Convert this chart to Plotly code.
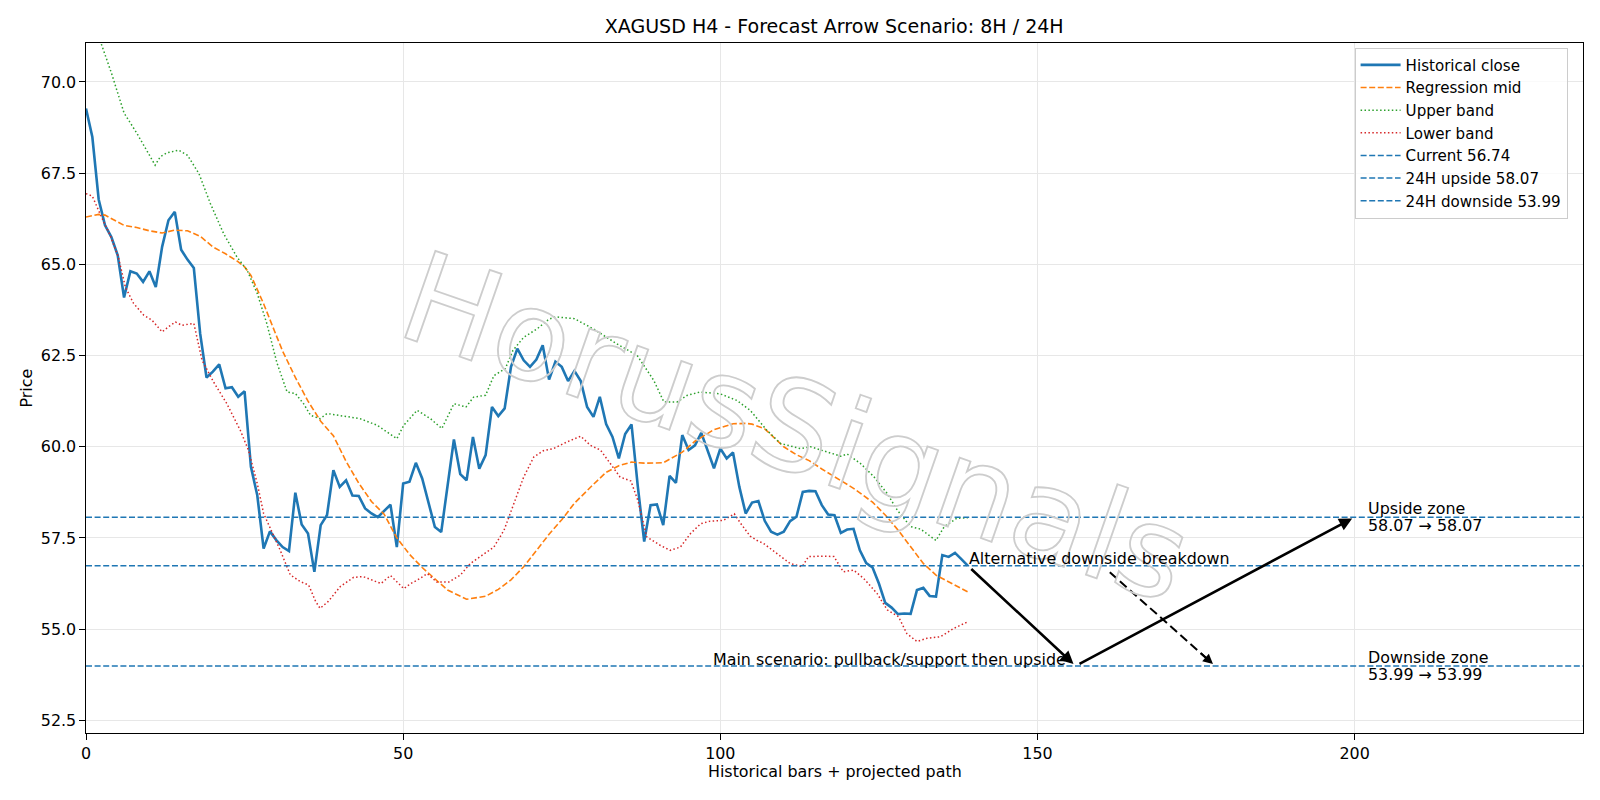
import plotly.graph_objects as go

FONT = "DejaVu Sans"

# ---------------- data ----------------
bar_index = list(range(140))
close = [69.27, 68.49, 66.78, 66.07, 65.75, 65.25, 64.09, 64.81, 64.75, 64.52,
         64.81, 64.38, 65.48, 66.21, 66.44, 65.40, 65.13, 64.90, 63.10, 61.90,
         62.06, 62.26, 61.60, 61.63, 61.37, 61.52, 59.45, 58.67, 57.21, 57.68,
         57.44, 57.25, 57.14, 58.74, 57.87, 57.62, 56.57, 57.85, 58.13, 59.36,
         58.90, 59.08, 58.66, 58.65, 58.31, 58.17, 58.07, 58.25, 58.41, 57.25,
         58.99, 59.04, 59.56, 59.13, 58.44, 57.80, 57.66, 58.93, 60.20, 59.25,
         59.08, 60.27, 59.40, 59.77, 61.09, 60.84, 61.05, 62.19, 62.69, 62.37,
         62.19, 62.39, 62.78, 61.84, 62.33, 62.19, 61.80, 62.08, 61.80, 61.09,
         60.82, 61.37, 60.62, 60.27, 59.68, 60.35, 60.61, 58.90, 57.40, 58.40,
         58.42, 57.85, 59.20, 59.01, 60.32, 59.91, 60.04, 60.38, 59.91, 59.41,
         59.95, 59.68, 59.84, 58.90, 58.17, 58.47, 58.51, 57.97, 57.67, 57.59,
         57.67, 57.96, 58.08, 58.76, 58.79, 58.78, 58.40, 58.14, 58.12, 57.64,
         57.73, 57.75, 57.16, 56.81, 56.69, 56.25, 55.72, 55.59, 55.41, 55.43,
         55.42, 56.07, 56.13, 55.91, 55.89, 57.03, 56.98, 57.09, 56.92, 56.74]

mid_x = [0, 2, 3, 5, 6, 8, 10, 12, 13, 14, 16, 18, 20, 22, 24, 25, 26, 28, 30, 31,
         33, 35, 37, 39, 41, 43, 45, 47, 49, 51, 53, 55, 57, 60, 63, 65, 67, 69, 71, 73,
         75, 77, 80, 82, 84, 86, 88, 91, 94, 96, 99, 102, 104, 105, 107, 109, 110, 112,
         114, 116, 119, 121, 124, 126, 128, 130, 132, 134, 137, 139]
mid_y = [66.30, 66.37, 66.35, 66.16, 66.07, 66.01, 65.92, 65.86, 65.89, 65.94,
         65.92, 65.77, 65.48, 65.29, 65.07, 64.93, 64.70, 63.92, 63.05, 62.62,
         61.90, 61.25, 60.70, 60.30, 59.60, 59.00, 58.50, 58.15, 57.50, 57.05,
         56.69, 56.38, 56.07, 55.82, 55.90, 56.09, 56.35, 56.71, 57.15, 57.60,
         58.00, 58.45, 58.97, 59.30, 59.48, 59.58, 59.55, 59.56, 59.85, 60.15,
         60.47, 60.63, 60.64, 60.62, 60.49, 60.18, 60.00, 59.78, 59.62, 59.39,
         59.08, 58.86, 58.48, 58.13, 57.72, 57.25, 56.80, 56.48, 56.20, 56.02]

upper_x = [0, 1, 2, 3, 4, 6, 8, 10.9, 11.7, 12.8, 14.6, 16, 17.8, 19.6, 21.7, 23.8,
           25.4, 27, 28.5, 30.1, 31.7, 33, 34.3, 35.4, 36.9, 38, 39, 43.2, 45.9, 49,
           50.1, 52.2, 54.3, 56.1, 58, 59.9, 61.1, 63, 64.3, 66.1, 67.3, 69, 71.1, 73,
           74, 77, 80, 83.7, 86.9, 89.5, 91.1, 93.2, 94.8, 96.8, 100, 102.6, 104.7,
           106.3, 107.3, 109.5, 112.6, 114.2, 116.8, 119, 120, 122.1, 124.2, 126.3,
           127.9, 130, 131.6, 134, 135.3, 137.3, 139]
upper_y = [72.25, 71.75, 71.25, 70.75, 70.25, 69.15, 68.60, 67.72, 67.95, 68.06,
           68.13, 67.99, 67.49, 66.67, 65.84, 65.20, 64.84, 64.20, 63.38, 62.30,
           61.50, 61.46, 61.18, 60.86, 60.77, 60.91, 60.88, 60.77, 60.59, 60.22,
           60.59, 61.00, 60.77, 60.50, 61.18, 61.09, 61.36, 61.41, 61.95, 62.14,
           62.64, 63.00, 63.23, 63.50, 63.56, 63.51, 63.23, 62.82, 62.50, 61.82,
           61.23, 61.23, 61.41, 61.50, 61.45, 61.27, 61.00, 60.68, 60.46, 60.09,
           59.95, 60.00, 59.86, 59.74, 59.80, 59.54, 59.18, 58.72, 58.26, 57.81,
           57.74, 57.43, 57.81, 58.04, 58.05]

lower_x = [0, 1, 2.3, 3.8, 5.1, 6.2, 7.5, 9.1, 10.4, 12, 13, 14.1, 15.1, 17, 18.3,
           20.1, 22.2, 24.3, 25.6, 27, 28, 29.3, 30.6, 32.2, 33.8, 35.1, 36.2, 36.9,
           38.2, 40.1, 42.2, 43.7, 45.3, 46.5, 48, 50.1, 51.2, 52.2, 53.8, 55.3, 57.2,
           59, 60.6, 62.7, 64.3, 65.9, 67.4, 69, 70.6, 72.1, 73.7, 75.8, 78, 79.5,
           81.1, 82.6, 84.2, 85.9, 87, 88.4, 90.5, 92.1, 93.7, 95.3, 96.9, 98.4, 100.5,
           102.2, 103.2, 104.7, 105.8, 106.8, 108.9, 111, 112.9, 113.9, 116.3, 117.9,
           119.4, 121, 122.6, 124.7, 126.3, 128.1, 129.4, 131, 132.6, 134.7, 136.8, 139]
lower_y = [66.94, 66.87, 66.35, 65.80, 65.20, 64.38, 63.93, 63.61, 63.47, 63.15,
           63.29, 63.42, 63.33, 63.38, 62.37, 61.78, 61.18, 60.46, 59.91, 58.99,
           58.17, 57.67, 57.17, 56.49, 56.30, 56.21, 55.76, 55.57, 55.76, 56.17,
           56.42, 56.44, 56.34, 56.25, 56.47, 56.11, 56.25, 56.34, 56.52, 56.29,
           56.29, 56.48, 56.80, 57.07, 57.25, 57.71, 58.44, 59.17, 59.72, 59.89,
           59.95, 60.13, 60.29, 60.04, 59.91, 59.54, 59.17, 59.06, 58.53, 57.53,
           57.30, 57.16, 57.25, 57.62, 57.89, 57.96, 57.98, 58.16, 57.90, 57.55,
           57.43, 57.35, 57.08, 56.80, 56.71, 56.99, 57.00, 56.99, 56.57, 56.62,
           56.39, 55.98, 55.53, 55.34, 54.88, 54.66, 54.75, 54.79, 55.02, 55.20]

current_price = 56.74
upside_target = 58.07
downside_target = 53.99

last_bar = 139
pullback_bar = 156
upside_bar = 200
alt_start = (161.4, 56.56)
alt_end_bar = 178
zone_label_bar = 202
main_text_bar = 154.7

x_range = [0, 236]
y_range = [52.152, 71.069]
x_ticks = [0, 50, 100, 150, 200]
y_ticks = [52.5, 55.0, 57.5, 60.0, 62.5, 65.0, 67.5, 70.0]

title_text = "XAGUSD H4 - Forecast Arrow Scenario: 8H / 24H"
watermark = "HorusSignals"

# ---------------- layout geometry (pixels) ----------------
W, H = 1600, 800
L, R, T, B = 85.7, 17.3, 42.7, 67.0
plot_w = W - L - R
plot_h = H - T - B

FS = 15.9        # body text size
FS_TITLE = 19.05
FS_LEGEND = 15.1

BLUE = "#1f77b4"
ORANGE = "#ff7f0e"
GREEN = "#2ca02c"
RED = "#d62728"

fig = go.Figure()

traces = [
    dict(x=bar_index, y=close, name="Historical close",
         line=dict(color=BLUE, width=2.6)),
    dict(x=mid_x, y=mid_y, name="Regression mid",
         line=dict(color=ORANGE, width=1.6, dash="6px,2.6px")),
    dict(x=upper_x, y=upper_y, name="Upper band",
         line=dict(color=GREEN, width=1.5, dash="1.5px,2.4px")),
    dict(x=lower_x, y=lower_y, name="Lower band",
         line=dict(color=RED, width=1.5, dash="1.5px,2.4px")),
    dict(x=x_range, y=[current_price] * 2, name=f"Current {current_price:.2f}",
         line=dict(color=BLUE, width=1.5, dash="6px,2.6px")),
    dict(x=x_range, y=[upside_target] * 2, name=f"24H upside {upside_target:.2f}",
         line=dict(color=BLUE, width=1.5, dash="6px,2.6px")),
    dict(x=x_range, y=[downside_target] * 2, name=f"24H downside {downside_target:.2f}",
         line=dict(color=BLUE, width=1.5, dash="6px,2.6px")),
]
for k, t in enumerate(traces):
    fig.add_trace(go.Scatter(mode="lines", legendgroup=f"g{k}", hoverinfo="skip", **t))

# dashed alternative scenario line (arrowhead added as annotation)
alt_dx = alt_end_bar - alt_start[0]
alt_dy = downside_target - alt_start[1]
fig.add_trace(go.Scatter(
    x=[alt_start[0], alt_start[0] + 0.93 * alt_dx],
    y=[alt_start[1], alt_start[1] + 0.93 * alt_dy],
    mode="lines", showlegend=False, hoverinfo="skip",
    line=dict(color="black", width=2.0, dash="9px,4.5px")))

txt_font = dict(family=FONT, size=FS, color="black")
annotations = []

# watermark
annotations.append(dict(
    x=111.86, y=60.52, xref="x", yref="y", showarrow=False,
    text=f'<span style="fill:none;stroke:#cdcdcd;stroke-width:1.8px">{watermark}</span>',
    textangle=19.2, xanchor="center", yanchor="middle",
    font=dict(family=FONT, size=126, color="#cdcdcd")))

# main scenario arrows
annotations.append(dict(
    x=pullback_bar, y=downside_target, ax=last_bar, ay=current_price,
    xref="x", yref="y", axref="x", ayref="y", text="", showarrow=True,
    arrowhead=2, arrowsize=1, arrowwidth=2.6, arrowcolor="black",
    standoff=2.8, startstandoff=2.8))
annotations.append(dict(
    x=upside_bar, y=upside_target, ax=pullback_bar, ay=downside_target,
    xref="x", yref="y", axref="x", ayref="y", text="", showarrow=True,
    arrowhead=2, arrowsize=1, arrowwidth=2.6, arrowcolor="black",
    standoff=2.8, startstandoff=2.8))
# alternative arrowhead
annotations.append(dict(
    x=alt_end_bar, y=downside_target,
    ax=alt_start[0] + 0.85 * alt_dx, ay=alt_start[1] + 0.85 * alt_dy,
    xref="x", yref="y", axref="x", ayref="y", text="", showarrow=True,
    arrowhead=2, arrowsize=1, arrowwidth=2.0, arrowcolor="black",
    standoff=2.8))

# scenario texts (baseline on the level line)
base_shift = -(0.236 * FS + 1)
annotations.append(dict(
    x=last_bar, y=current_price, xref="x", yref="y", showarrow=False,
    text="Alternative downside breakdown", xanchor="left", yanchor="bottom",
    xshift=-1, yshift=base_shift, font=txt_font))
annotations.append(dict(
    x=main_text_bar, y=downside_target, xref="x", yref="y", showarrow=False,
    text="Main scenario: pullback/support then upside", xanchor="right",
    yanchor="bottom", xshift=1, yshift=base_shift, font=txt_font))

zone_labels = [
    (upside_target, "Upside zone", f"{upside_target:.2f} → {upside_target:.2f}"),
    (downside_target, "Downside zone", f"{downside_target:.2f} → {downside_target:.2f}"),
]
for level, line1, line2 in zone_labels:
    for txt, shift in ((line1, 8.7), (line2, -8.7)):
        annotations.append(dict(
            x=zone_label_bar, y=level, xref="x", yref="y", showarrow=False,
            text=txt, xanchor="left", yanchor="middle", align="left",
            xshift=-1, yshift=shift, font=txt_font))

# axis titles
annotations.append(dict(
    x=0.5, y=0, xref="paper", yref="paper", showarrow=False,
    text="Historical bars + projected path", xanchor="center", yanchor="middle",
    yshift=-38.6, font=txt_font))
annotations.append(dict(
    x=0, y=0.5, xref="paper", yref="paper", showarrow=False,
    text="Price", textangle=-90, xanchor="center", yanchor="middle",
    xshift=-60.5, font=txt_font))

axis_common = dict(
    showgrid=True, gridcolor="#e7e7e7", gridwidth=1.2, zeroline=False,
    showline=True, linecolor="black", linewidth=1.25, mirror=True,
    ticks="outside", ticklen=5.5, tickwidth=1.25, tickcolor="black",
    tickfont=dict(family=FONT, size=FS, color="black"))

fig.update_layout(
    width=W, height=H,
    margin=dict(l=L, r=R, t=T, b=B, pad=0),
    paper_bgcolor="white", plot_bgcolor="white",
    font=dict(family=FONT, color="black"),
    title=dict(text=title_text, x=(L + plot_w / 2) / W, xanchor="center",
               xref="container", yref="container", y=1 - 26.6 / H, yanchor="middle",
               font=dict(family=FONT, size=FS_TITLE, color="black")),
    xaxis=dict(range=x_range, tickvals=x_ticks, **axis_common),
    yaxis=dict(range=y_range, tickvals=y_ticks, tickformat=".1f", **axis_common),
    legend=dict(x=(1354.3 - L) / plot_w, y=1 - (47.3 - T) / plot_h,
                xanchor="left", yanchor="top", bgcolor="rgba(255,255,255,0.8)",
                bordercolor="#cccccc", borderwidth=1, tracegroupgap=0,
                itemwidth=40, traceorder="grouped",
                font=dict(family=FONT, size=FS_LEGEND, color="black")),
    annotations=annotations,
    showlegend=True,
)

fig.write_html("out.html")
